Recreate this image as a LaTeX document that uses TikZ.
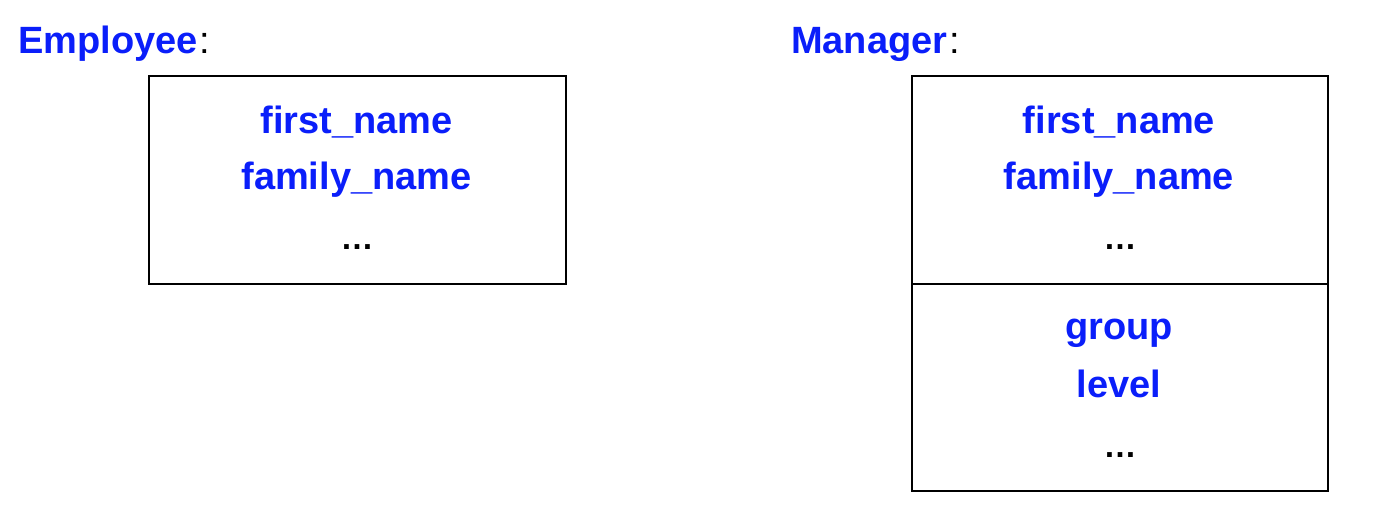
\documentclass[tikz,border=0pt]{standalone}
\usepackage{fontspec}
\setmainfont{Liberation Sans}
\definecolor{fblue}{RGB}{10,30,250}
\begin{document}
\begin{tikzpicture}[x=1pt,y=-1pt,
  lbl/.style={anchor=base, inner sep=0pt, font=\fontsize{38}{40}\selectfont\bfseries, text=fblue},
  dotsl/.style={anchor=base, inner sep=0pt, font=\fontsize{33}{36}\selectfont\bfseries, text=black},
  title/.style={anchor=base west, inner sep=0pt, font=\fontsize{38}{40}\selectfont},
  cbox/.style={draw=black, line width=1.6pt, anchor=north west, inner sep=0pt}]
\useasboundingbox (0,0) rectangle (1380,530);
% Employee
\node[title] (etitle) at (18,53) {\textcolor{fblue}{\bfseries Employee}\kern2pt:};
\node[cbox, minimum width=417pt, minimum height=208pt] (ebox) at (148,75) {};
\node[lbl] (efirst) at (356.5,133) {first\_name};
\node[lbl] (efamily) at (356.5,189) {family\_name};
\node[dotsl] (edots) at (357,249) {…};
% Manager
\node[title] (mtitle) at (791,53) {\textcolor{fblue}{\bfseries Manager}\kern2pt:};
\node[cbox, minimum width=416pt, minimum height=208pt] (mbox1) at (911,75) {};
\node[cbox, minimum width=416pt, minimum height=207pt] (mbox2) at (911,283) {};
\node[lbl] (mfirst) at (1119,133) {first\_name};
\node[lbl] (mfamily) at (1119,189) {family\_name};
\node[dotsl] (mdots1) at (1120,249) {…};
\node[lbl] (mgroup) at (1119,339) {group};
\node[lbl] (mlevel) at (1119,397) {level};
\node[dotsl] (mdots2) at (1120,457) {…};
\end{tikzpicture}
\end{document}
